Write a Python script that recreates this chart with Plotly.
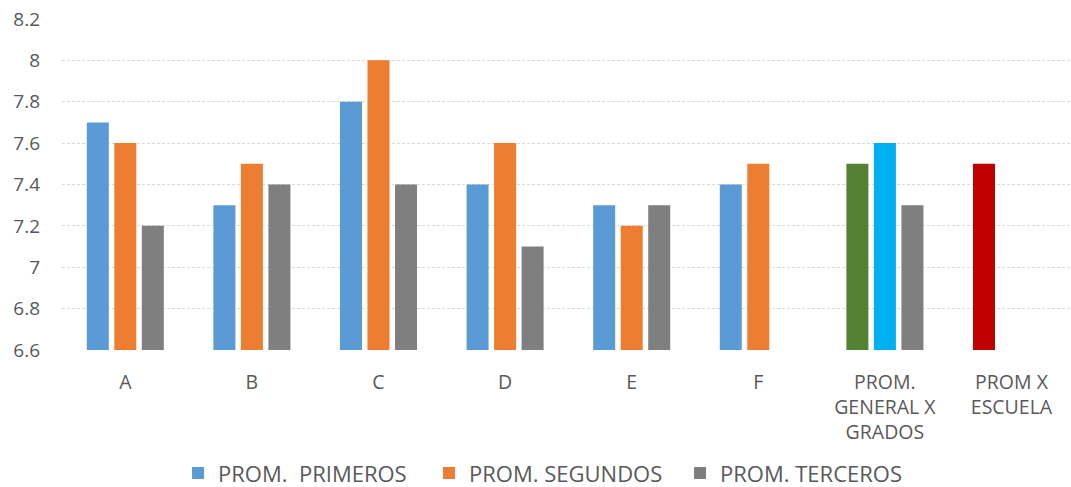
import plotly.graph_objects as go

categories = ["A", "B", "C", "D", "E", "F",
              "PROM.<br>GENERAL X<br>GRADOS", "PROM X<br>ESCUELA"]
primeros = [7.7, 7.3, 7.8, 7.4, 7.3, 7.4, 7.5, 7.5]
segundos = [7.6, 7.5, 8.0, 7.6, 7.2, 7.5, 7.6, None]
terceros = [7.2, 7.4, 7.4, 7.1, 7.3, None, 7.3, None]
y_ticks = [6.6, 6.8, 7.0, 7.2, 7.4, 7.6, 7.8, 8.0, 8.2]
y_tick_text = ["6.6", "6.8", "7", "7.2", "7.4", "7.6", "7.8", "8", "8.2"]

BLUE, ORANGE, GRAY = "#5B9BD5", "#ED7D31", "#7F7F7F"
# summary groups use their own colours
primeros_colors = [BLUE] * 6 + ["#548235", "#C00000"]
segundos_colors = [ORANGE] * 6 + ["#00B0F0", ORANGE]
terceros_colors = [GRAY] * 8

fig = go.Figure()
fig.add_trace(go.Bar(x=categories, y=primeros, name="PROM.  PRIMEROS",
                     marker=dict(color=primeros_colors, line_width=0)))
fig.add_trace(go.Bar(x=categories, y=segundos, name="PROM. SEGUNDOS",
                     marker=dict(color=segundos_colors, line_width=0)))
fig.add_trace(go.Bar(x=categories, y=terceros, name="PROM. TERCEROS",
                     marker=dict(color=terceros_colors, line_width=0)))

fig.update_layout(
    width=1071, height=487,
    margin=dict(l=62, r=0, t=19, b=137, autoexpand=False),
    paper_bgcolor="white", plot_bgcolor="white",
    barmode="group", bargap=0.348, bargroupgap=0.2,
    font=dict(family="Open Sans", size=18, color="#595959"),
    showlegend=True,
    legend=dict(orientation="h", x=0.115, xanchor="left", y=-0.372,
                yanchor="middle", font=dict(size=22, color="#595959"),
                itemwidth=30, traceorder="normal",
                entrywidth=206, entrywidthmode="pixels"),
    xaxis=dict(range=[-0.5, 7.47], showgrid=False, showline=False,
               ticks="", ticklabelstandoff=18,
               tickfont=dict(size=19.5, color="#595959")),
    yaxis=dict(range=[6.6, 8.2], tickvals=y_ticks, ticktext=y_tick_text,
               showgrid=True, gridcolor="#D9D9D9", griddash="3px,2px",
               gridwidth=1, zeroline=False, showline=False, ticks="",
               ticklabelstandoff=21,
               tickfont=dict(size=19, color="#595959")),
)

fig.write_html("out.html")
